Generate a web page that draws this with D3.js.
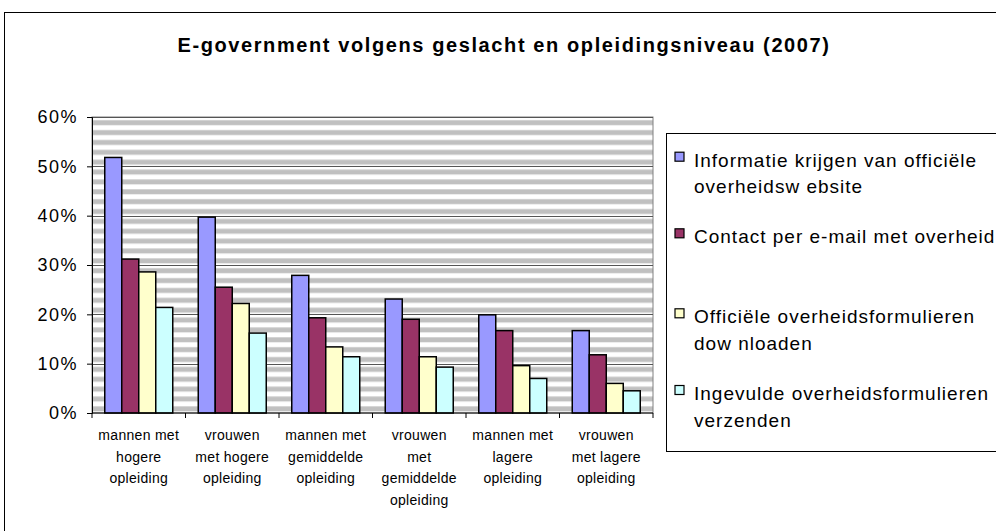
<!DOCTYPE html>
<html>
<head>
<meta charset="utf-8">
<script src="https://cdn.jsdelivr.net/npm/d3@7"></script>
<style>
    body { margin: 0; background: #fff; }
    text { font-family: "Liberation Sans", Arial, sans-serif; fill: #000; }
</style>
</head>
<body>
<svg id="chart"></svg>
<script>
// data
const categories = [
    ["mannen met", "hogere", "opleiding"],
    ["vrouwen", "met hogere", "opleiding"],
    ["mannen met", "gemiddelde", "opleiding"],
    ["vrouwen", "met", "gemiddelde", "opleiding"],
    ["mannen met", "lagere", "opleiding"],
    ["vrouwen", "met lagere", "opleiding"]
];
const seriesNames = [
    ["Informatie krijgen van officiële", "overheidsw ebsite"],
    ["Contact per e-mail met overheid"],
    ["Officiële overheidsformulieren", "dow nloaden"],
    ["Ingevulde overheidsformulieren", "verzenden"]
];
const informatie = [0.518, 0.397, 0.279, 0.231, 0.199, 0.167];
const contact    = [0.312, 0.255, 0.193, 0.190, 0.167, 0.118];
const formulierenDownload = [0.286, 0.222, 0.134, 0.114, 0.096, 0.060];
const formulierenVerzenden = [0.214, 0.162, 0.114, 0.093, 0.070, 0.045];
const yTicks = [0, 0.1, 0.2, 0.3, 0.4, 0.5, 0.6];

const colors = ["#9999ff", "#993366", "#ffffcc", "#ccffff"];
const allSeries = [informatie, contact, formulierenDownload, formulierenVerzenden];

const W = 996, H = 531;
const plot = { left: 92, right: 653, top: 117, bottom: 413 };

const svg = d3.select("#chart").attr("width", W).attr("height", H);

// outer chart frame (runs off the right and bottom edge)
svg.append("rect")
    .attr("x", 4.5).attr("y", 12.5)
    .attr("width", 1100).attr("height", 600)
    .attr("fill", "#fff").attr("stroke", "#000");

svg.append("text")
    .attr("x", 504).attr("y", 52)
    .attr("text-anchor", "middle")
    .style("font-size", "20px").style("font-weight", "bold")
    .style("letter-spacing", "1.6px")
    .text("E-government volgens geslacht en opleidingsniveau (2007)");

const keys = categories.map((c, i) => "c" + i);
const x = d3.scaleBand().domain(keys).range([plot.left, plot.right]);
const barW = x.bandwidth() / 5.5;
const xs = d3.scaleBand().domain(d3.range(4))
    .range([0.75 * barW, 4.75 * barW]);
const y = d3.scaleLinear().domain([0, 0.6]).range([plot.bottom, plot.top]);

// striped background
const period = y(0) - y(0.02);
const pat = svg.append("defs").append("pattern")
    .attr("id", "stripes")
    .attr("patternUnits", "userSpaceOnUse")
    .attr("x", 0).attr("y", y(0.6))
    .attr("width", 10).attr("height", period);
pat.append("rect").attr("width", 10).attr("height", period).attr("fill", "#fff");
pat.append("rect").attr("y", period * 0.33).attr("width", 10).attr("height", period * 0.5).attr("fill", "#c0c0c0");

svg.append("rect")
    .attr("x", plot.left).attr("y", plot.top)
    .attr("width", plot.right - plot.left).attr("height", plot.bottom - plot.top)
    .attr("fill", "url(#stripes)")
    .attr("stroke", "#808080");

// gridlines
svg.append("g")
    .selectAll("line").data(yTicks.slice(1))
    .enter().append("line")
    .attr("x1", plot.left).attr("x2", plot.right)
    .attr("y1", d => Math.round(y(d)) + 0.5).attr("y2", d => Math.round(y(d)) + 0.5)
    .attr("stroke", "#555");

// bars
allSeries.forEach(function(vals, s) {
    svg.append("g").selectAll("rect").data(vals)
        .enter().append("rect")
        .attr("x", (d, i) => x(keys[i]) + xs(s))
        .attr("y", d => y(d))
        .attr("width", xs.bandwidth())
        .attr("height", d => y(0) - y(d))
        .attr("fill", colors[s])
        .attr("stroke", "#000")
        .attr("stroke-width", 1.5);
});

// axes
const yAxis = d3.axisLeft(y).tickValues(yTicks).tickFormat(d3.format(".0%")).tickSize(5).tickPadding(9);
const gy = svg.append("g").attr("transform", "translate(" + plot.left + ",0)").call(yAxis);
gy.select(".domain").attr("stroke", "#000");
gy.selectAll("text").style("font-size", "18px").style("letter-spacing", "1.5px")
    .attr("font-family", null);

const gx = svg.append("g").attr("transform", "translate(0," + plot.bottom + ")");
gx.append("line")
    .attr("x1", plot.left).attr("x2", plot.right)
    .attr("stroke", "#000");
gx.selectAll(".tick")
    .data(keys.concat(["end"]))
    .enter().append("line")
    .attr("class", "tick")
    .attr("x1", d => d === "end" ? plot.right : x(d))
    .attr("x2", d => d === "end" ? plot.right : x(d))
    .attr("y2", 5)
    .attr("stroke", "#000");

const labels = gx.selectAll(".lbl").data(categories)
    .enter().append("text")
    .attr("class", "lbl")
    .attr("text-anchor", "middle")
    .style("font-size", "14px")
    .style("letter-spacing", "0.3px");
labels.selectAll("tspan").data((d, i) => d.map(t => ({ t: t, i: i })))
    .enter().append("tspan")
    .attr("x", d => x(keys[d.i]) + x.bandwidth() / 2)
    .attr("y", (d, j) => 27 + j * 21.7)
    .text(d => d.t);

// legend
const legend = svg.append("g");
legend.append("rect")
    .attr("x", 666.5).attr("y", 133.5)
    .attr("width", 400).attr("height", 318)
    .attr("fill", "#fff").attr("stroke", "#000");

const itemY = [166.7, 243.3, 323.3, 400];
const item = legend.selectAll(".item").data(seriesNames)
    .enter().append("g")
    .attr("class", "item")
    .attr("transform", (d, i) => "translate(0," + itemY[i] + ")");
item.append("rect")
    .attr("x", 675).attr("y", -14.5)
    .attr("width", 9).attr("height", 9)
    .attr("fill", (d, i) => colors[i])
    .attr("stroke", "#000").attr("stroke-width", 1.2);
item.append("text")
    .style("font-size", "19px")
    .style("letter-spacing", "1px")
    .selectAll("tspan").data(d => d)
    .enter().append("tspan")
    .attr("x", 694)
    .attr("y", (d, j) => j * 26.7)
    .text(d => d);
</script>
</body>
</html>
